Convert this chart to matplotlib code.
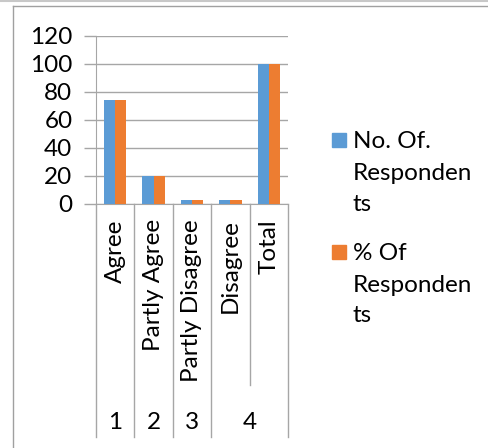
import matplotlib.pyplot as plt
import numpy as np
from matplotlib.patches import Rectangle
from matplotlib.lines import Line2D
from matplotlib.transforms import blended_transform_factory

plt.rcParams['font.family'] = ['Lato', 'DejaVu Sans']

# survey answers, two series (count and percent)
categories = ["Agree", "Partly Agree", "Partly Disagree", "Disagree", "Total"]
no_of_resp = [74, 20, 3, 3, 100]
pct_of_resp = [74, 20, 3, 3, 100]
groups = ["1", "2", "3", "4"]
group_sizes = [1, 1, 1, 2]
legend_lines = [["No. Of.", "Responden", "ts"], ["% Of", "Responden", "ts"]]
yticks = [0, 20, 40, 60, 80, 100, 120]

blue = "#5B9BD5"
orange = "#ED7D31"
grid_c = "#A6A6A6"
W, H = 489, 448
fs = 17.5

fig = plt.figure(figsize=(W / 100, H / 100), dpi=100)
ax = fig.add_axes([96 / W, 1 - 204 / H, 192 / W, 168 / H])

x = np.arange(len(categories))
bw = 0.29
ax.bar(x - bw / 2, no_of_resp, bw, color=blue, zorder=3)
ax.bar(x + bw / 2, pct_of_resp, bw, color=orange, zorder=3)

ax.set_xlim(-0.5, len(categories) - 0.5)
ax.set_ylim(0, 120)
ax.set_yticks(yticks)
ax.yaxis.grid(True, color=grid_c, lw=1, zorder=0)
ax.tick_params(axis='y', length=9, width=1, color=grid_c, labelsize=fs, pad=8)
ax.set_xticks(x)
ax.set_xticklabels(categories, rotation=90, va='top', fontsize=fs)
ax.tick_params(axis='x', length=0, pad=11)
for s in ['top', 'right']:
    ax.spines[s].set_visible(False)
for s in ['left', 'bottom']:
    ax.spines[s].set_color(grid_c)

# dividers of the two-level category axis
tr = blended_transform_factory(ax.transData, fig.transFigure)
y_axis = 1 - 204 / H
y_low = 1 - 437 / H
y_short = 1 - 385 / H
edges = np.concatenate([[0], np.cumsum(group_sizes)]) - 0.5
for e in edges:
    ax.add_line(Line2D([e, e], [y_low, y_axis], transform=tr, color=grid_c,
                       lw=1, clip_on=False))
pos = 0
for g, n in zip(groups, group_sizes):
    for k in range(1, n):
        xe = pos + k - 0.5
        ax.add_line(Line2D([xe, xe], [y_short, y_axis], transform=tr,
                           color=grid_c, lw=1, clip_on=False))
    ax.text(pos + (n - 1) / 2, 1 - 422 / H, g, transform=tr, ha='center',
            va='center', fontsize=fs)
    pos += n

# legend, wrapped text as in the sheet
colors = [blue, orange]
for i, (lines, c) in enumerate(zip(legend_lines, colors)):
    top = 133 + i * 112
    fig.patches.append(Rectangle((332 / W, 1 - (top + 14) / H), 14 / W, 14 / H,
                                 transform=fig.transFigure, color=c))
    for j, t in enumerate(lines):
        fig.text(353 / W, 1 - (top + 7 + j * 31) / H, t, ha='left',
                 va='center_baseline', fontsize=fs)

# chart frame
fig.add_artist(Line2D([13 / W, 13 / W], [0, 1 - 6 / H], color="#A0A0A0", lw=1))
fig.add_artist(Line2D([13 / W, 1], [1 - 6 / H, 1 - 6 / H], color="#A0A0A0", lw=1))
fig.add_artist(Line2D([0, 1], [1 - 1 / H, 1 - 1 / H], color="#C8C8C8", lw=1.5))

fig.savefig("out.png", dpi=100)
